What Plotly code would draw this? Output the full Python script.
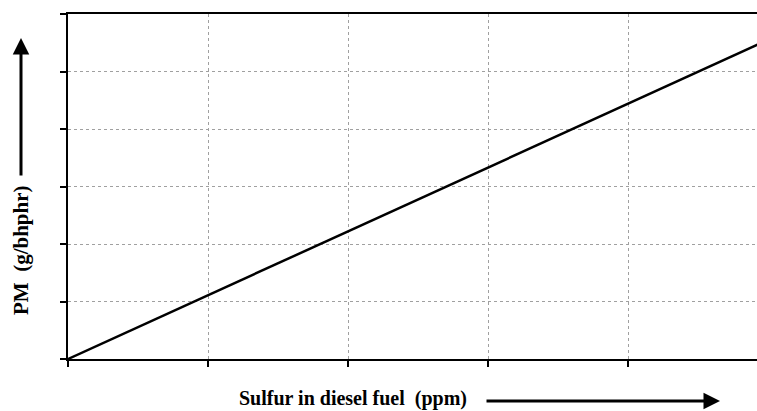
import plotly.graph_objects as go

# Data: PM emissions increase linearly with fuel sulfur (arbitrary units, no tick labels)
sulfur = [0, 5]
pm = [0, 5.55]
x_ticks = [0, 1, 2, 3, 4]
y_ticks = [0, 1, 2, 3, 4, 5, 6]

W, H = 757, 411
L, R, T, B = 68, 0, 14, 52
pw, ph = W - L - R, H - T - B

def px_x(p):
    return (p - L) / pw

def px_y(p):
    return (H - B - p) / ph

fig = go.Figure()
fig.add_trace(go.Scatter(x=sulfur, y=pm, mode="lines",
                         line=dict(color="black", width=2.5),
                         hoverinfo="skip", showlegend=False))

font = dict(family="Liberation Serif, Times New Roman, serif", size=20, color="black")

fig.update_layout(
    width=W, height=H,
    margin=dict(l=L, r=R, t=T, b=B),
    paper_bgcolor="white", plot_bgcolor="white",
    showlegend=False,
    xaxis=dict(range=[0, 4.92], tickvals=x_ticks, showticklabels=False,
               ticks="outside", ticklen=6, tickwidth=1.5, tickcolor="black",
               showgrid=True, gridcolor="#a0a0a0", griddash="dot", gridwidth=1,
               showline=True, linecolor="black", linewidth=2, mirror=True,
               zeroline=False, fixedrange=True),
    yaxis=dict(range=[0, 6], tickvals=y_ticks, showticklabels=False,
               ticks="outside", ticklen=6, tickwidth=1.5, tickcolor="black",
               showgrid=True, gridcolor="#a0a0a0", griddash="dot", gridwidth=1,
               showline=True, linecolor="black", linewidth=2,
               zeroline=False, fixedrange=True),
)

# Axis titles
fig.add_annotation(text="<b>Sulfur in diesel fuel  (ppm)</b>", xref="paper", yref="paper",
                   x=px_x(353), y=px_y(398), showarrow=False, font=font,
                   xanchor="center", yanchor="middle")
fig.add_annotation(text="<b>PM  (g/bhphr)</b>", xref="paper", yref="paper",
                   x=px_x(21), y=px_y(250), showarrow=False, font=dict(font, size=21),
                   textangle=-90, xanchor="center", yanchor="middle")

# Arrows
fig.add_annotation(text="", xref="paper", yref="paper",
                   x=px_x(720), y=px_y(401), ax=-235, ay=0,
                   showarrow=True, arrowhead=2, arrowsize=1.1, arrowwidth=3, arrowcolor="black")
fig.add_annotation(text="", xref="paper", yref="paper",
                   x=px_x(21), y=px_y(38), ax=0, ay=139,
                   showarrow=True, arrowhead=2, arrowsize=1.1, arrowwidth=3, arrowcolor="black")

fig.write_html("out.html", config={"displayModeBar": False},
               post_script="document.body.style.margin='0';document.body.style.overflow='hidden';")
